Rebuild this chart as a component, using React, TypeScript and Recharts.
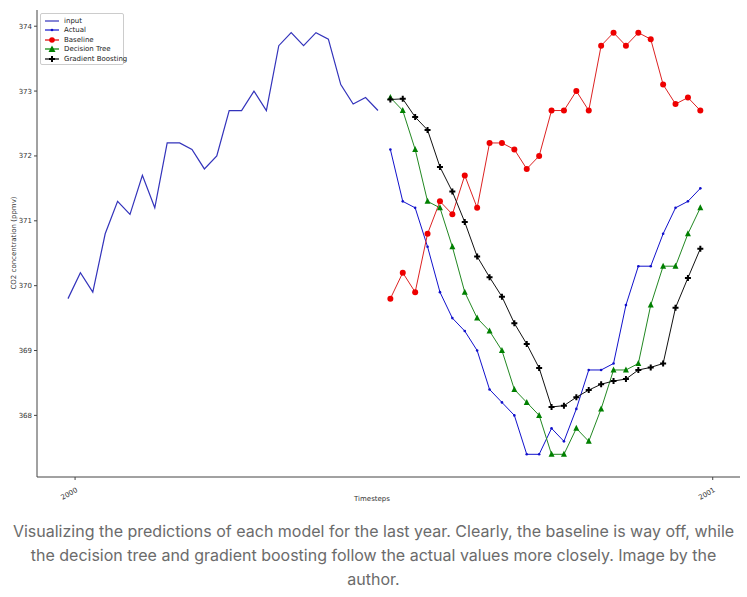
import React from "react";
import { LineChart, Line, XAxis, YAxis } from "recharts";

const inputVals = [369.8, 370.2, 369.9, 370.8, 371.3, 371.1, 371.7, 371.2, 372.2, 372.2, 372.1, 371.8, 372.0, 372.7, 372.7, 373.0, 372.7, 373.7, 373.9, 373.7, 373.9, 373.8, 373.1, 372.8, 372.9, 372.7];
const actualVals = [372.1, 371.3, 371.2, 370.6, 369.9, 369.5, 369.3, 369.0, 368.4, 368.2, 368.0, 367.4, 367.4, 367.8, 367.6, 368.1, 368.7, 368.7, 368.8, 369.7, 370.3, 370.3, 370.8, 371.2, 371.3, 371.5];
const baselineVals = inputVals;
const treeVals = [372.9, 372.7, 372.1, 371.3, 371.2, 370.6, 369.9, 369.5, 369.3, 369.0, 368.4, 368.2, 368.0, 367.4, 367.4, 367.8, 367.6, 368.1, 368.7, 368.7, 368.8, 369.7, 370.3, 370.3, 370.8, 371.2];
const gbVals = [372.87, 372.88, 372.6, 372.4, 371.83, 371.45, 370.98, 370.45, 370.13, 369.83, 369.42, 369.1, 368.73, 368.13, 368.15, 368.28, 368.39, 368.48, 368.53, 368.56, 368.7, 368.74, 368.8, 369.66, 370.12, 370.57];
const xTicks = [0.57, 52];
const xTickLabels = ["2000", "2001"];
const yTicks = [368, 369, 370, 371, 372, 373, 374];

const data = [
  ...inputVals.map((v, i) => ({ t: i, input: v })),
  ...actualVals.map((v, i) => ({ t: 26 + i, actual: v, baseline: baselineVals[i], tree: treeVals[i], gb: gbVals[i] })),
];

const Tri = (p: any) => p.cx == null ? null : <polygon points={`${p.cx},${p.cy - 3.5} ${p.cx - 3},${p.cy + 2.5} ${p.cx + 3},${p.cy + 2.5}`} fill="green" />;
const Plus = (p: any) => p.cx == null ? null : <path d={`M${p.cx - 1},${p.cy - 3}h2v2h2v2h-2v2h-2v-2h-2v-2h2z`} fill="black" />;

const XTick = (p: any) => {
  const i = xTicks.indexOf(p.payload.value);
  return (
    <g transform={`translate(${p.x},${p.y + 4}) rotate(-30)`}>
      <text textAnchor="end" dy={6} fontSize={7} fill="#333">{xTickLabels[i]}</text>
    </g>
  );
};

const legendItems = [
  { name: "input", color: "#3333bb", m: null },
  { name: "Actual", color: "#1111cc", m: "dot" },
  { name: "Baseline", color: "#dd0000", m: "circ" },
  { name: "Decision Tree", color: "green", m: "tri" },
  { name: "Gradient Boosting", color: "black", m: "plus" },
];

export default function App() {
  return (
    <div style={{ position: "absolute", left: 0, top: 0, width: 747, height: 597, background: "#fff", fontFamily: "'DejaVu Sans', sans-serif" }}>
      <LineChart width={747} height={510} data={data} margin={{ top: 10, right: 7, left: 0, bottom: 0 }}>
        <XAxis dataKey="t" type="number" domain={[-2.5, 54.2]} ticks={xTicks} tick={<XTick />} height={33} stroke="#444" tickSize={3} allowDataOverflow />
        <XAxis xAxisId="top" orientation="top" dataKey="t" type="number" domain={[-2.5, 54.2]} ticks={[]} tick={false} height={0} stroke="#444" allowDataOverflow />
        <YAxis type="number" domain={[367.05, 374.25]} ticks={yTicks} width={37} tick={{ fontSize: 7, fill: "#333" }} stroke="#444" tickSize={3} allowDataOverflow />
        <YAxis yAxisId="right" orientation="right" type="number" domain={[367.05, 374.25]} ticks={[]} tick={false} width={0} stroke="#444" allowDataOverflow />
        <Line dataKey="input" stroke="#3333bb" strokeWidth={1.2} dot={false} isAnimationActive={false} />
        <Line dataKey="actual" stroke="#1111cc" strokeWidth={1} dot={{ r: 1.3, fill: "#1111cc", stroke: "none" }} isAnimationActive={false} />
        <Line dataKey="baseline" stroke="#dd2222" strokeWidth={1} dot={{ r: 3, fill: "#ee0000", stroke: "none" }} isAnimationActive={false} />
        <Line dataKey="tree" stroke="#228822" strokeWidth={1} dot={<Tri />} isAnimationActive={false} />
        <Line dataKey="gb" stroke="#111" strokeWidth={1} dot={<Plus />} isAnimationActive={false} />
      </LineChart>
      <div style={{ position: "absolute", left: 372, top: 495, fontSize: 7, color: "#333", transform: "translateX(-50%)" }}>Timesteps</div>
      <div style={{ position: "absolute", left: 14, top: 243, fontSize: 7, color: "#333", transform: "translate(-50%,-50%) rotate(-90deg)", whiteSpace: "nowrap" }}>CO2 concentration (ppmv)</div>
      <div style={{ position: "absolute", left: 40, top: 13, width: 82, height: 50, border: "1px solid #ccc", borderRadius: 2, background: "#fff", fontSize: 7, color: "#222" }}>
        {legendItems.map((it, k) => (
          <div key={k} style={{ position: "absolute", left: 3, top: 2 + k * 9.6, display: "flex", alignItems: "center", height: 9 }}>
            <svg width={16} height={8}>
              <line x1={1} y1={4} x2={15} y2={4} stroke={it.color} strokeWidth={1.2} />
              {it.m === "dot" && <circle cx={8} cy={4} r={1.3} fill={it.color} />}
              {it.m === "circ" && <circle cx={8} cy={4} r={2.8} fill="#ee0000" />}
              {it.m === "tri" && <polygon points="8,0.5 4.5,7 11.5,7" fill="green" />}
              {it.m === "plus" && <path d="M7,1h2v2h2v2h-2v2h-2v-2h-2v-2h2z" fill="black" />}
            </svg>
            <span style={{ marginLeft: 4, whiteSpace: "nowrap" }}>{it.name}</span>
          </div>
        ))}
      </div>
      <div style={{ position: "absolute", left: 0, top: 519, width: 747, textAlign: "center", fontFamily: "Inter, 'Open Sans', sans-serif", fontSize: 16, lineHeight: "24px", color: "#6b6b6b", whiteSpace: "nowrap" }}>
        Visualizing the predictions of each model for the last year. Clearly, the baseline is way off, while<br />the decision tree and gradient boosting follow the actual values more closely. Image by the<br />author.
      </div>
    </div>
  );
}
